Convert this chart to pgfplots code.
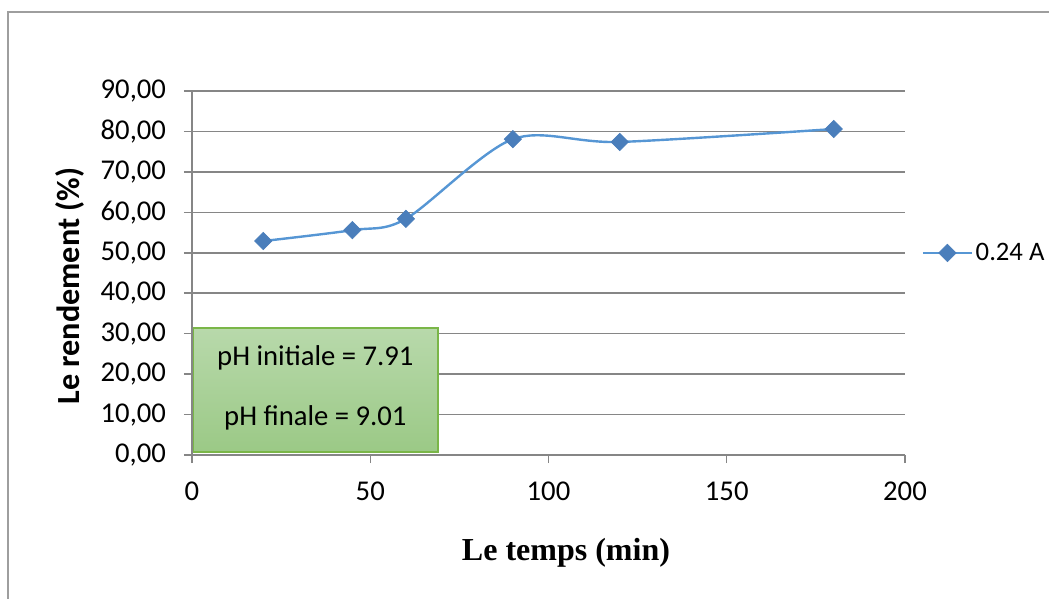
\documentclass[border=0pt]{standalone}
\usepackage{pgfplots}
\pgfplotsset{compat=1.18}
\usepackage{fontspec}
\setmainfont{Carlito}
\newfontfamily\timesfont{Liberation Serif}
\definecolor{gridgray}{RGB}{134,134,134}
\definecolor{lineblue}{RGB}{86,150,212}
\definecolor{markblue}{RGB}{74,126,187}
\definecolor{boxtop}{RGB}{184,217,171}
\definecolor{boxbot}{RGB}{155,201,134}
\definecolor{boxborder}{RGB}{122,182,72}
\begin{document}
\begin{tikzpicture}
\path[use as bounding box] (0pt,0pt) rectangle (786.75pt,-449.25pt);
\draw[gridgray!80, line width=1.1pt] (6pt,-449.25pt) -- (6pt,-9pt) -- (786.75pt,-9pt);
\begin{axis}[
  at={(144pt,-341.25pt)}, anchor=south west,
  scale only axis, width=534.75pt, height=273pt,
  xmin=0, xmax=200, ymin=0, ymax=90,
  xtick={0,50,...,200}, ytick={0,10,...,90},
  axis lines=left,
  axis line style={-, draw=gridgray, line width=1.1pt},
  ymajorgrids, grid style={draw=gridgray, line width=1.1pt},
  tick align=outside, major tick length=6pt,
  tick style={draw=gridgray, line width=1.1pt},
  /pgf/number format/assume math mode=true,
  tick label style={font=\fontsize{21.5}{24}\selectfont},
  y tick label style={xshift=-10pt, /pgf/number format/fixed, /pgf/number format/fixed zerofill,
    /pgf/number format/precision=2, /pgf/number format/use comma},
  x tick label style={yshift=-10.5pt},
  xlabel={\timesfont\bfseries Le temps (min)},
  xlabel style={at={(axis description cs:0.5245,-0.269)}, anchor=center, font=\fontsize{24}{28}\selectfont},
  ylabel={\bfseries Le rendement (\%)},
  ylabel style={at={(axis description cs:-0.171,0.464)}, anchor=center, font=\fontsize{24.2}{28}\selectfont},
  legend style={at={(axis description cs:1.023,0.555)}, anchor=west, draw=none, fill=none,
    inner sep=0pt, font=\fontsize{20}{24}\selectfont},
  legend image code/.code={\draw[mark repeat=2, mark phase=2, #1] plot coordinates {(0pt,0pt) (18.4pt,0pt) (36.75pt,0pt)};},
]
\draw[boxborder, line width=0.8pt, top color=boxtop, bottom color=boxbot]
  (axis cs:0.3,0.75) rectangle (axis cs:69,31.4);
\node[font=\fontsize{21.5}{24}\selectfont] at (axis cs:34.6,24.0) {pH initiale = 7.91};
\node[font=\fontsize{21.5}{24}\selectfont] at (axis cs:34.6,9.15) {pH finale = 9.01};
\addplot[color=lineblue, line width=1.8pt, smooth, tension=0.5,
  mark=square*, mark size=4.6pt, mark options={rotate=45, fill=markblue, draw=markblue, line width=0.5pt}]
  coordinates {(20,52.9) (45,55.6) (60,58.4) (90,78.1) (120,77.4) (180,80.6)};
\addlegendentry{0.24 A}
\end{axis}
\end{tikzpicture}
\end{document}
